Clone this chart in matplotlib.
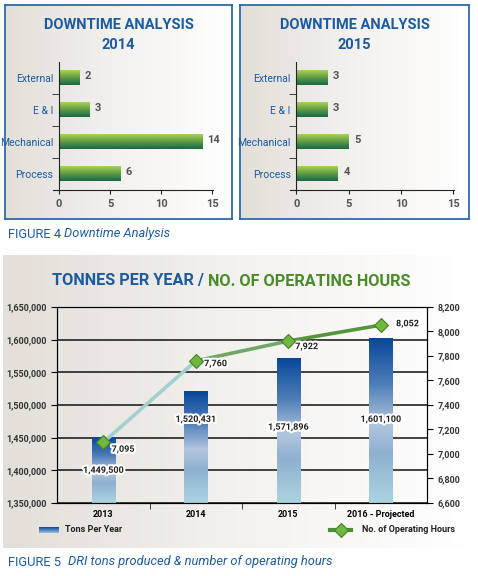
import numpy as np
import matplotlib
matplotlib.use("Agg")
import matplotlib.pyplot as plt
from matplotlib.collections import LineCollection
from matplotlib.lines import Line2D
import matplotlib.patheffects as pe

# data
categories = ["Process", "Mechanical", "E & I", "External"]
downtime_2014 = [6, 14, 3, 2]
downtime_2015 = [4, 5, 3, 3]

years = ["2013", "2014", "2015", "2016 - Projected"]
tons = [1449500, 1520431, 1571896, 1601100]
hours = [7095, 7760, 7922, 8052]

W, H = 478, 576
BLUE = "#1c5ba0"
GREEN = "#4a8c2c"
plt.rcParams["font.family"] = ["Roboto", "DejaVu Sans"]

fig = plt.figure(figsize=(W / 100, H / 100), dpi=100)


def box(x0, y0, x1, y1):
    # pixel box -> figure fraction
    return [x0 / W, 1 - y1 / H, (x1 - x0) / W, (y1 - y0) / H]


def bg_panel(x0, y0, x1, y1, border=True):
    a = fig.add_axes(box(x0, y0, x1, y1), zorder=0)
    grad = np.linspace(0, 1, 256).reshape(1, -1)
    cm = matplotlib.colors.LinearSegmentedColormap.from_list("bg", ["#e3dfd9", "#f4f2ef", "#ffffff"])
    a.imshow(grad, aspect="auto", cmap=cm, extent=[0, 1, 0, 1])
    a.set_xticks([])
    a.set_yticks([])
    for s in a.spines.values():
        s.set_visible(border)
        s.set_color("#2d6aa6")
        s.set_linewidth(1.3)
    return a


green_cm = matplotlib.colors.LinearSegmentedColormap.from_list("g", ["#17684a", "#5d9c45", "#a9d255"])
blue_cm = matplotlib.colors.LinearSegmentedColormap.from_list(
    "b", [(0, "#aad4e0"), (0.3, "#8fb0d0"), (0.48, "#b3c6de"), (0.72, "#4f7eb8"), (1, "#08489a")])


def downtime_panel(pbox, abox, title, values):
    bg_panel(*pbox)
    ax = fig.add_axes(box(*abox), zorder=1)
    ax.patch.set_alpha(0)
    pos = np.arange(len(categories))
    bars = ax.barh(pos, values, height=0.44, color="none")
    grad = np.linspace(0, 1, 64).reshape(-1, 1)
    for b in bars:
        x0, y0 = b.get_x(), b.get_y()
        ax.imshow(grad, aspect="auto", cmap=green_cm, origin="lower",
                  extent=[x0, x0 + b.get_width(), y0, y0 + b.get_height()], zorder=2)
        ax.text(b.get_width() + 0.5, y0 + b.get_height() / 2 + 0.05, str(int(b.get_width())),
                ha="left", va="center", fontsize=8, fontweight="bold", color="#555555")
    ax.set_xlim(-0.6, 15.05)
    ax.set_ylim(-0.5, 3.5)
    ax.spines["left"].set_position(("data", 0))
    ax.spines["top"].set_visible(False)
    ax.spines["right"].set_visible(False)
    ax.spines["left"].set_color("#222222")
    ax.spines["bottom"].set_color("#222222")
    ax.set_yticks(pos)
    ax.set_yticklabels(categories, color=BLUE, fontsize=7.5)
    ax.set_yticks([0.5, 1.5, 2.5], minor=True)
    ax.tick_params(axis="y", which="major", length=0, pad=4)
    ax.tick_params(axis="y", which="minor", length=5, color="#222222")
    ax.set_xticks([0, 5, 10, 15])
    ax.tick_params(axis="x", length=3, color="#222222", labelsize=8, labelcolor="#555555")
    for t in ax.get_xticklabels():
        t.set_fontweight("bold")
    cx = (pbox[0] + pbox[2]) / 2
    fig.text(cx / W, 1 - 25 / H, "DOWNTIME ANALYSIS", ha="center", va="center",
             fontsize=10.5, fontweight="bold", color=BLUE)
    fig.text(cx / W, 1 - 45 / H, title, ha="center", va="center",
             fontsize=10.5, fontweight="bold", color=BLUE)


downtime_panel((5, 5, 232, 219), (53, 62, 213, 190), "2014", downtime_2014)
downtime_panel((240, 5, 469, 219), (290, 62, 454, 190), "2015", downtime_2015)

t4 = fig.text(8 / W, 1 - 234 / H, "FIGURE 4 ", ha="left", va="center", fontsize=9.3, color=BLUE)
fig.add_artist(matplotlib.text.Annotation("Downtime Analysis", xy=(1, 0.5), xycoords=t4,
                                          va="center", ha="left", fontsize=9.3, color=BLUE, style="italic"))

# bottom chart
bg_panel(3, 255, 470, 548, border=False)
ax = fig.add_axes(box(57, 307, 427, 503), zorder=1)
ax.patch.set_alpha(0)
x = np.arange(len(years))
bars = ax.bar(x, tons, width=0.25, bottom=0, color="none")
ax.set_ylim(1350000, 1650000)
ax.set_xlim(-0.5, 3.5)
gradv = np.linspace(0, 1, 128).reshape(-1, 1)
label_y = [1400000, 1478000, 1466000, 1478000]
for b, ly in zip(bars, label_y):
    x0 = b.get_x()
    ax.imshow(gradv, aspect="auto", cmap=blue_cm, origin="lower",
              extent=[x0, x0 + b.get_width(), 1350000, b.get_height()], zorder=2)
    ax.text(x0 + b.get_width() / 2, ly, f"{int(b.get_height()):,}", ha="center", va="center",
            fontsize=6.5, fontweight="bold", color="#222222", zorder=5,
            path_effects=[pe.withStroke(linewidth=3, foreground="white")])
ax.set_yticks(np.arange(1350000, 1650001, 50000))
ax.yaxis.set_major_formatter(matplotlib.ticker.FuncFormatter(lambda v, p: f"{int(v):,}"))
ax.grid(axis="y", color="#111111", linewidth=1.1, zorder=1)
ax.set_axisbelow(True)
ax.set_xticks(x)
ax.set_xticklabels(years)
ax.set_xticks([0.5, 1.5, 2.5], minor=True)
ax.tick_params(axis="x", which="major", length=0, pad=5, labelsize=6.5)
ax.tick_params(axis="x", which="minor", length=4, color="#222222")
ax.tick_params(axis="y", length=4, labelsize=6.5, labelcolor="#333333")
for t in ax.get_xticklabels() + ax.get_yticklabels():
    t.set_fontweight("bold")
for s in ax.spines.values():
    s.set_color("#111111")

ax2 = ax.twinx()
ax2.set_ylim(6600, 8200)
ax2.set_yticks(np.arange(6600, 8201, 200))
ax2.yaxis.set_major_formatter(matplotlib.ticker.FuncFormatter(lambda v, p: f"{int(v):,}"))
ax2.tick_params(axis="y", length=4, labelsize=6.5, labelcolor="#333333")
for t in ax2.get_yticklabels():
    t.set_fontweight("bold")
pts = np.column_stack([x, hours])
segs = [pts[i:i + 2] for i in range(len(pts) - 1)]
lc = LineCollection(segs, colors=["#a3d0cf", "#6fa866", "#55963a"], linewidths=2.6,
                    capstyle="round", zorder=3)
ax2.add_collection(lc)
ax2.plot(x, hours, linestyle="none", marker="D", markersize=7, color="#72b63f",
         markeredgecolor="#3f822c", markeredgewidth=0.8, zorder=4)
offs = [(6, -5), (6, -2), (5, -4), (11, 1)]
for xi, h, o in zip(x, hours, offs):
    ax2.annotate(f"{h:,}", (xi, h), xytext=o, textcoords="offset points", ha="left", va="center",
                 fontsize=6.5, fontweight="bold", color="#222222",
                 path_effects=[pe.withStroke(linewidth=3, foreground="white")])

t5a = fig.text(52 / W, 1 - 281 / H, "TONNES PER YEAR / ", ha="left", va="center",
               fontsize=11.7, fontweight="bold", color=BLUE)
fig.add_artist(matplotlib.text.Annotation("NO. OF OPERATING HOURS", xy=(1, 0.5), xycoords=t5a,
                                          va="center", ha="left", fontsize=11.7, fontweight="bold",
                                          color=GREEN))

# legend
lg = fig.add_axes(box(39, 527, 58, 533), zorder=2)
lg.imshow(gradv, aspect="auto", cmap=matplotlib.colors.LinearSegmentedColormap.from_list(
    "lb", ["#9bc0dc", "#084a96"]), origin="lower", extent=[0, 1, 0, 1])
lg.axis("off")
fig.text(65 / W, 1 - 530 / H, "Tons Per Year", ha="left", va="center", fontsize=6.5,
         fontweight="bold", color="#222222")
fig.add_artist(Line2D([330 / W, 351 / W], [1 - 530 / H, 1 - 530 / H], color="#4f8f2f", linewidth=3))
fig.add_artist(Line2D([340.5 / W], [1 - 530 / H], marker="D", markersize=7, color="#72b63f",
                      markeredgecolor="#3f822c", markeredgewidth=0.8))
fig.text(362 / W, 1 - 530 / H, "No. of Operating Hours", ha="left", va="center", fontsize=6.5,
         fontweight="bold", color="#222222")

t5 = fig.text(8 / W, 1 - 562 / H, "FIGURE 5  ", ha="left", va="center", fontsize=9.3, color=BLUE)
fig.add_artist(matplotlib.text.Annotation("DRI tons produced & number of operating hours", xy=(1, 0.5),
                                          xycoords=t5, va="center", ha="left", fontsize=9.3,
                                          color=BLUE, style="italic"))

fig.savefig("out.png", dpi=100)
